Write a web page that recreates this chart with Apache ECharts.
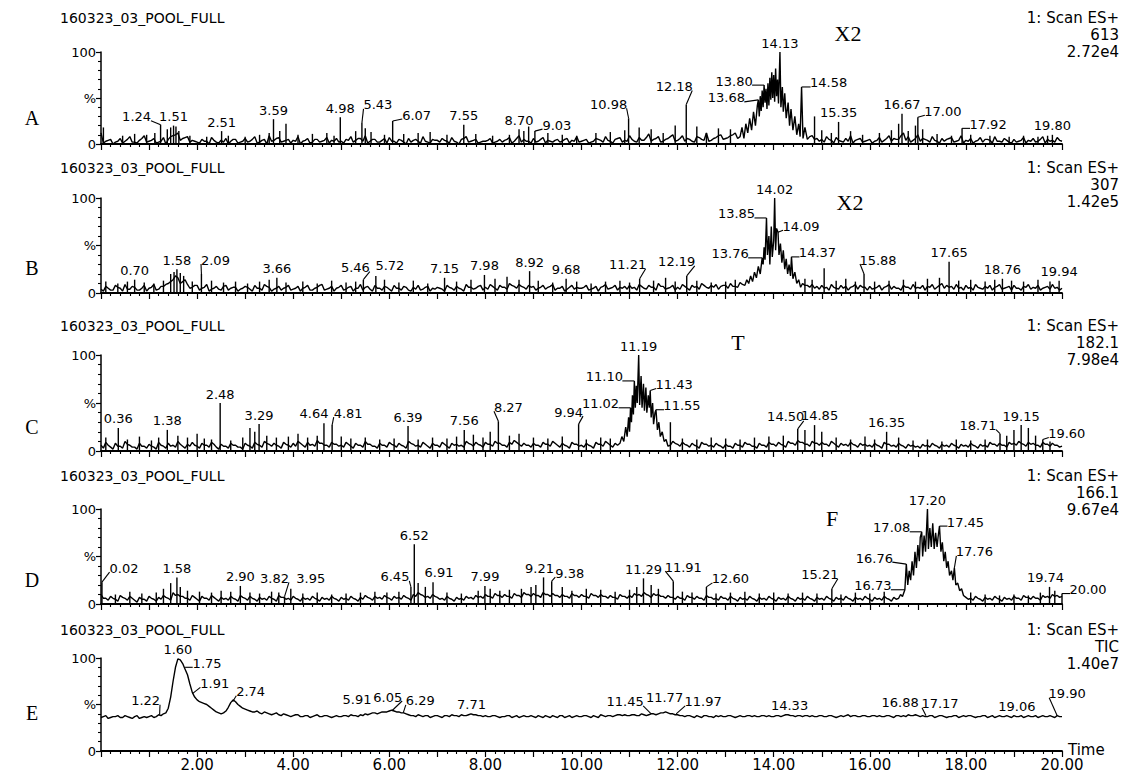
<!DOCTYPE html>
<html><head><meta charset="utf-8">
<script src="https://cdn.jsdelivr.net/npm/echarts@6/dist/echarts.min.js"></script>
<style>html,body{margin:0;padding:0;background:#fff}#c{width:1124px;height:781px}</style>
</head><body><div id="c"></div>
<script>
// ---------- DATA ----------
const BASE_STEP = 0.1; // baseline sampled every 0.1 min (0..20); mid arrays sit halfway between
const xTickLabels = ['2.00','4.00','6.00','8.00','10.00','12.00','14.00','16.00','18.00','20.00'];
const panelNames = ['A','B','C','D','E'];
const runTitle = '160323_03_POOL_FULL';
const scanInfo = [['1: Scan ES+','613','2.72e4'],['1: Scan ES+','307','1.42e5'],['1: Scan ES+','182.1','7.98e4'],['1: Scan ES+','166.1','9.67e4'],['1: Scan ES+','TIC','1.40e7']];
const peakTags = ['X2','X2','T','F',''];

const aBase = [12,3,5,2,6,3,8,2,4,9, 3,6,2,7,5,9,12,6,8,4, 2,5,3,7,2,4,6,3,5,2, 6,3,8,2,5,9,4,7,3,5, 4,8,3,6,2,5,3,7,4,6, 3,5,8,4,6,9,3,5,2,6, 7,3,5,2,6,4,3,8,2,5, 4,6,3,7,2,5,8,3,5,2, 3,6,2,5,4,7,3,9,5,3, 6,3,7,4,2,5,3,6,4,8, 3,5,2,6,4,8,3,5,7,4, 9,3,7,4,11,5,8,3,6,10, 4,9,6,3,8,5,12,4,7,10, 6,9,12,8,15,22,38,48,55,62, 70,66,58,50,40,30,22,14,9,6, 5,8,4,7,3,6,9,4,6,3, 5,3,7,4,9,6,5,12,8,4, 10,6,4,8,3,6,5,7,3,9, 4,6,3,7,5,4,8,3,6,2, 5,3,7,4,6,3,8,5,4,7, 3];
const aMid = [1,4,0,3,1,5,2,1,6,2, 4,1,3,0,8,10,4,7,2,3, 1,3,0,4,1,2,0,5,1,3, 2,5,1,4,0,3,6,2,4,1, 3,0,4,1,5,2,4,1,3,2, 1,4,2,6,3,1,5,2,4,1, 3,1,4,0,2,5,1,3,1,4, 2,4,1,3,0,6,2,4,1,3, 4,1,3,2,5,1,6,2,3,1, 2,5,1,3,4,2,5,1,3,2, 4,1,3,5,2,4,1,6,2,3, 5,2,4,7,3,6,2,5,8,3, 6,3,5,2,7,4,3,6,9,5, 7,10,6,12,9,18,30,40,45,50, 55,50,45,35,28,20,12,8,5,3, 2,5,1,4,2,3,1,5,2,4, 1,4,2,6,3,5,9,4,2,6, 3,5,2,4,1,3,6,2,4,1, 3,1,4,2,5,1,3,2,4,1, 2,4,1,3,2,5,1,3,2,4];
const aCluster = [[13.30,8],[13.34,18],[13.38,6],[13.42,22],[13.46,12],[13.50,28],[13.54,15],[13.58,35],[13.62,20],[13.66,42],[13.68,48],[13.70,30],[13.72,52],[13.74,36],[13.76,58],[13.78,40],[13.80,64],[13.82,45],[13.84,60],[13.86,38],[13.88,66],[13.90,42],[13.92,72],[13.94,48],[13.96,78],[13.98,50],[14.00,75],[14.02,46],[14.04,82],[14.06,52],[14.08,70],[14.10,44],[14.13,100],[14.15,40],[14.18,62],[14.20,35],[14.23,55],[14.26,28],[14.30,45],[14.33,20],[14.36,38],[14.40,15],[14.44,30],[14.48,10],[14.52,22],[14.55,8],[14.58,62],[14.61,6],[14.65,18],[14.70,5]];
const aSpikes = [[0.05,18],[0.45,9],[0.70,11],[0.95,10],[1.12,12],[1.38,16],[1.45,18],[1.56,19],[1.62,14],[1.85,9],[2.20,8],[2.65,9],[3.00,8],[3.30,10],[3.50,12],[3.72,14],[3.85,22],[4.10,10],[4.40,11],[4.70,12],[4.85,9],[5.30,14],[5.50,17],[5.62,13],[5.90,10],[6.30,11],[6.60,12],[6.85,13],[7.20,10],[7.80,11],[8.15,9],[8.50,10],[8.80,14],[8.90,19],[9.30,12],[9.60,10],[9.90,9],[10.30,12],[10.60,13],[10.90,15],[11.20,18],[11.45,16],[11.70,12],[11.95,20],[12.40,19],[12.60,12],[12.85,17],[13.10,16],[14.85,30],[15.00,15],[15.20,12],[15.60,14],[15.85,10],[16.20,12],[16.45,15],[16.60,22],[16.80,14],[16.95,20],[17.10,16],[17.40,11],[17.70,9],[18.10,10],[18.50,9],[18.90,8],[19.20,9],[19.50,8],[19.70,9]];
const aLabels = [[1.24,21],[1.51,20],[2.51,14],[3.59,27],[4.98,29],[5.43,23],[6.07,25],[7.55,21],[8.70,16],[9.03,14],[10.98,28],[12.18,43],[13.68,48],[13.80,64],[14.13,100],[14.58,62],[15.35,24],[16.67,33],[17.00,29],[17.92,17],[19.80,10]];

const bBase = [4,7,3,8,5,9,4,6,3,8, 5,9,4,7,10,14,16,12,9,6, 8,5,9,4,7,3,8,5,6,4, 7,4,8,5,9,6,4,7,5,8, 4,7,5,8,3,6,9,4,7,5, 8,4,7,5,9,6,4,8,5,7, 4,8,5,7,3,6,8,4,7,5, 6,4,8,5,7,4,9,6,5,8, 6,9,5,8,6,10,7,9,6,8, 7,5,8,6,9,5,7,4,8,6, 5,8,4,7,6,9,5,8,6,7, 8,6,9,5,8,6,10,7,5,8, 6,9,5,8,7,10,6,8,9,7, 8,10,7,11,9,12,15,25,40,55, 60,55,40,32,25,15,10,8,9,7, 8,6,9,5,8,7,6,9,8,6, 7,5,8,6,9,7,5,8,6,9, 6,8,7,9,6,10,8,7,9,6, 8,6,9,5,7,8,6,9,5,7, 8,5,7,9,6,8,5,7,9,6, 5];
const bMid = [2,5,3,6,2,4,7,3,5,2, 6,3,7,9,12,18,10,14,5,8, 3,6,2,5,4,7,3,6,2,5, 6,2,5,3,7,2,5,3,6,3, 5,2,6,3,5,8,3,5,2,6, 3,6,2,5,3,7,2,5,3,6, 2,5,3,6,2,4,3,6,2,4, 5,2,6,3,5,2,6,4,7,3, 4,7,3,6,4,8,5,7,4,6, 3,6,4,7,3,5,2,6,4,5, 6,3,5,2,7,4,6,3,5,4, 5,3,7,4,6,3,7,4,6,3, 4,7,3,6,4,8,5,6,4,8, 5,7,6,9,8,11,18,30,45,60, 52,45,35,28,18,12,8,6,5,4, 5,3,6,4,5,3,7,4,6,3, 4,6,3,7,4,5,3,6,4,5, 5,3,6,4,8,5,6,4,5,3, 5,3,6,4,5,3,7,4,6,3, 5,3,6,4,5,3,6,4,5,3];
const bCluster = [[13.40,8],[13.44,14],[13.48,10],[13.52,18],[13.56,12],[13.60,22],[13.64,16],[13.68,28],[13.72,20],[13.76,37],[13.78,30],[13.80,48],[13.82,35],[13.85,79],[13.87,40],[13.90,60],[13.92,30],[13.95,70],[13.97,38],[14.00,55],[14.02,100],[14.04,45],[14.06,68],[14.09,64],[14.11,40],[14.14,52],[14.17,32],[14.20,45],[14.23,25],[14.26,36],[14.29,20],[14.32,30],[14.35,18],[14.37,38],[14.40,15],[14.44,22],[14.48,10],[14.52,14],[14.56,6]];
const bSpikes = [[0.10,12],[0.35,10],[0.55,12],[0.90,11],[1.10,10],[1.30,13],[1.45,20],[1.52,22],[1.65,21],[1.72,18],[1.90,12],[2.30,13],[2.55,11],[2.80,12],[3.05,10],[3.30,12],[3.50,14],[3.85,11],[4.20,12],[4.50,10],[4.80,13],[5.10,11],[5.30,12],[5.90,14],[6.20,11],[6.50,13],[6.80,10],[7.40,12],[7.70,14],[8.20,15],[8.45,17],[8.70,14],[9.10,13],[9.40,11],[9.90,12],[10.20,10],[10.50,12],[10.80,13],[11.00,11],[11.50,13],[11.75,16],[11.95,12],[12.40,13],[12.70,11],[13.00,12],[13.20,14],[14.65,15],[14.80,14],[15.05,26],[15.30,13],[15.50,15],[15.70,12],[16.10,12],[16.40,13],[16.70,14],[16.95,12],[17.20,15],[17.45,16],[17.85,13],[18.10,14],[18.40,12],[18.60,14],[18.95,13],[19.20,12],[19.50,14],[19.75,12]];
const bLabels = [[0.70,14],[1.58,25],[2.09,20],[3.66,16],[5.46,14],[5.72,18],[7.15,16],[7.98,19],[8.92,23],[9.68,15],[11.21,15],[12.19,18],[13.76,37],[13.85,79],[14.02,100],[14.09,64],[14.37,38],[15.88,20],[17.65,33],[18.76,15],[19.94,13]];

const cBase = [6,9,4,8,5,10,6,4,8,5, 7,4,9,5,8,6,10,5,7,9, 5,8,6,9,4,7,5,8,6,4, 8,5,9,6,10,7,8,5,9,6, 8,10,6,9,7,11,8,6,9,7, 6,9,5,8,6,10,7,5,8,6, 9,6,8,5,10,7,6,9,5,8, 6,9,5,8,7,6,10,7,9,6, 9,7,10,8,6,9,11,7,8,6, 8,6,9,7,10,6,8,5,9,7, 6,8,5,9,7,10,6,8,9,12, 20,40,60,50,40,30,15,10,8,10, 7,9,6,8,5,9,7,6,8,5, 7,5,8,6,9,7,5,8,6,9, 7,9,6,10,8,11,9,7,10,8, 9,7,10,6,8,7,9,6,8,7, 6,8,5,9,7,6,8,5,7,6, 5,7,6,8,5,7,6,8,5,7, 6,8,5,7,6,9,7,8,6,9, 8,10,7,9,8,6,9,7,8,6, 5];
const cMid = [3,6,2,5,3,7,4,2,5,3, 5,2,6,3,5,4,7,3,5,6, 3,6,4,7,2,5,3,6,4,2, 6,3,7,4,8,5,6,3,7,4, 5,8,4,6,5,8,6,4,7,5, 4,7,3,6,4,7,5,3,6,4, 7,4,6,3,8,5,4,7,3,6, 4,7,3,6,5,4,8,5,7,4, 7,5,8,6,4,7,9,5,6,4, 6,4,7,5,8,4,6,3,7,5, 4,6,3,7,5,8,4,6,7,10, 30,50,55,45,35,25,12,8,6,8, 5,7,4,6,3,7,5,4,6,3, 5,3,6,4,7,5,3,6,4,7, 5,7,4,8,6,9,7,5,8,6, 7,5,8,4,6,5,7,4,6,5, 4,6,3,7,5,4,6,3,5,4, 3,5,4,6,3,5,4,6,3,5, 4,6,3,5,4,7,5,6,4,7, 6,8,5,7,6,4,7,5,6,4];
const cCluster = [[10.80,8],[10.84,15],[10.88,10],[10.92,25],[10.95,15],[10.98,35],[11.00,20],[11.02,45],[11.04,30],[11.06,58],[11.08,38],[11.10,73],[11.12,45],[11.14,68],[11.16,50],[11.19,100],[11.21,48],[11.24,78],[11.26,45],[11.29,70],[11.31,42],[11.34,66],[11.36,40],[11.39,58],[11.41,45],[11.43,63],[11.45,35],[11.48,50],[11.50,28],[11.53,40],[11.55,43],[11.58,22],[11.61,30],[11.64,15],[11.68,20],[11.72,10],[11.76,12],[11.80,5]];
const cSpikes = [[0.10,14],[0.55,12],[0.80,15],[1.05,11],[1.20,14],[1.60,16],[1.80,14],[2.00,18],[2.15,13],[2.30,12],[2.70,11],[2.95,14],[3.10,24],[3.20,20],[3.45,16],[3.65,14],[3.90,15],[4.10,18],[4.30,14],[4.50,16],[5.00,15],[5.20,13],[5.50,14],[5.80,12],[6.10,13],[6.60,12],[6.90,14],[7.20,13],[7.40,15],[7.75,17],[7.95,14],[8.10,20],[8.50,16],[8.70,18],[9.00,14],[9.30,13],[9.60,15],[10.10,12],[10.40,14],[10.60,13],[11.85,30],[12.10,13],[12.40,12],[12.70,14],[13.00,13],[13.30,12],[13.60,14],[13.90,15],[14.20,16],[14.65,22],[15.00,20],[15.30,14],[15.60,12],[15.90,15],[16.10,12],[16.60,14],[16.90,11],[17.20,12],[17.50,10],[17.80,12],[18.10,11],[18.40,12],[18.85,16],[19.00,22],[19.30,24],[19.45,16],[19.75,10]];
const cLabels = [[0.36,24],[1.38,22],[2.48,50],[3.29,28],[4.64,29],[4.81,27],[6.39,26],[7.56,22],[8.27,31],[9.94,28],[11.02,45],[11.10,73],[11.19,100],[11.43,63],[11.55,43],[14.50,23],[14.85,27],[16.35,20],[18.71,18],[19.15,27],[19.60,12]];

const dBase = [10,6,8,5,9,6,8,4,7,5, 8,5,7,9,6,12,10,8,6,9, 5,8,6,9,5,7,6,8,5,9, 6,8,5,7,6,8,5,9,7,6, 8,5,7,6,8,5,7,6,8,5, 7,6,8,5,7,9,6,8,7,9, 6,8,7,9,6,10,12,9,8,10, 7,6,8,5,7,6,8,7,9,8, 10,8,11,9,10,8,11,9,12,10, 11,9,12,10,11,9,10,8,11,9, 10,8,11,9,10,8,9,7,10,8, 9,11,10,12,9,11,10,8,9,7, 8,6,9,7,8,6,9,7,6,8, 6,8,5,7,6,8,5,7,6,8, 5,7,6,8,5,7,6,8,5,7, 6,8,5,7,6,8,5,7,6,8, 5,7,6,8,5,7,10,30,50,60, 70,80,90,80,70,50,40,30,20,12, 7,6,8,5,7,6,8,5,7,6, 8,6,9,7,8,6,9,8,10,9, 8];
const dMid = [6,4,6,3,7,4,6,2,5,3, 6,3,5,7,4,9,8,6,4,7, 3,6,4,7,3,5,4,6,3,7, 4,6,3,5,4,6,3,7,5,4, 6,3,5,4,6,3,5,4,6,3, 5,4,6,3,5,7,4,6,5,7, 4,6,5,7,4,8,10,7,6,8, 5,4,6,3,5,4,6,5,7,6, 8,6,9,7,8,6,9,7,10,8, 9,7,10,8,9,7,8,6,9,7, 8,6,9,7,8,6,7,5,8,6, 7,9,8,10,7,9,8,6,7,5, 6,4,7,5,6,4,7,5,4,6, 4,6,3,5,4,6,3,5,4,6, 3,5,4,6,3,5,4,6,3,5, 4,6,3,5,4,6,3,5,4,6, 3,5,4,6,3,5,20,40,55,65, 75,85,80,75,60,45,35,25,15,10, 5,4,6,3,5,4,6,3,5,4, 6,4,7,5,6,4,7,6,8,7];
const dCluster = [[16.60,6],[16.64,10],[16.68,8],[16.73,15],[16.76,42],[16.79,20],[16.82,35],[16.85,25],[16.88,45],[16.91,30],[16.94,55],[16.97,38],[17.00,62],[17.03,45],[17.05,70],[17.08,76],[17.10,50],[17.13,72],[17.16,55],[17.20,100],[17.22,58],[17.25,80],[17.28,60],[17.31,85],[17.34,58],[17.37,75],[17.40,60],[17.42,70],[17.45,82],[17.48,55],[17.51,65],[17.54,45],[17.57,55],[17.60,38],[17.63,45],[17.66,30],[17.70,35],[17.73,25],[17.76,38],[17.79,20],[17.83,22],[17.87,14],[17.91,16],[17.95,9],[18.00,7]];
const dSpikes = [[0.30,10],[0.60,13],[0.85,11],[1.15,12],[1.30,16],[1.45,22],[1.65,18],[1.80,14],[2.05,13],[2.30,12],[2.50,14],[2.70,13],[3.10,12],[3.30,11],[3.55,13],[3.70,12],[4.20,11],[4.50,12],[4.80,10],[5.10,11],[5.40,12],[5.70,13],[5.95,12],[6.20,13],[6.60,22],[6.75,18],[7.20,12],[7.50,11],[7.85,14],[8.10,16],[8.30,14],[8.50,15],[8.75,16],[8.95,18],[9.05,20],[9.60,18],[9.80,14],[10.10,16],[10.40,15],[10.70,13],[11.00,15],[11.15,18],[11.45,20],[11.60,16],[12.10,13],[12.30,12],[12.80,11],[13.10,12],[13.40,13],[13.70,11],[14.00,12],[14.30,11],[14.60,12],[14.90,11],[15.40,10],[15.70,12],[16.00,11],[16.30,13],[18.10,12],[18.40,10],[18.70,9],[19.00,10],[19.30,9],[19.55,12],[19.85,14]];
const dLabels = [[0.02,23],[1.58,28],[2.90,19],[3.82,8],[3.95,16],[6.45,18],[6.52,63],[6.91,23],[7.99,19],[9.21,28],[9.38,24],[11.29,27],[11.91,24],[12.60,18],[15.21,16],[16.73,15],[16.76,42],[17.08,76],[17.20,100],[17.45,82],[17.76,38],[19.74,18],[20.00,11]];

const eBase = [36,38,36,37,36,38,36,37,35,37, 37,36,39,40,46,75,99,94,82,63, 55,52,50,46,42,40,43,52,53,48, 45,43,42,41,42,40,40,39,40,38, 38,39,37,38,37,39,37,38,36,38, 37,38,39,38,39,40,40,41,41,42, 43,43,42,41,39,38,39,37,38,37, 38,36,38,39,38,39,38,40,39,38, 38,37,38,36,37,38,37,36,38,37, 37,38,36,37,38,36,38,37,36,38, 37,38,36,37,39,37,38,38,39,39, 38,39,38,39,39,40,40,41,41,40, 39,38,38,37,38,36,38,37,38,38, 37,38,36,38,37,38,38,37,38,38, 37,38,38,39,38,38,37,38,38,37, 38,37,38,36,38,38,37,38,37,38, 37,38,38,37,38,36,38,38,39,38, 38,38,37,38,37,38,36,37,38,37, 37,38,36,37,38,37,36,38,37,37, 38,37,36,38,37,36,38,37,37,38, 37];
const eMid = [37,35,37,38,36,37,35,38,36,36, 38,37,38,41,58,90,98,88,72,58, 53,51,48,44,41,41,47,55,50,46, 44,42,43,40,41,39,41,38,39,37, 39,37,38,36,38,37,38,37,37,37, 38,37,38,37,38,39,41,40,42,42, 44,42,41,40,38,37,38,38,36,38, 37,38,37,38,37,38,39,39,38,37, 37,38,37,37,38,36,38,37,37,38, 36,37,38,36,37,38,36,38,37,37, 38,37,38,36,38,38,37,39,38,38, 39,38,40,38,40,39,41,42,40,39, 38,37,38,36,37,38,37,36,37,37, 38,37,37,37,38,37,37,38,37,37, 38,37,39,38,37,38,38,37,37,38, 37,38,37,37,37,39,38,37,38,37, 38,37,37,38,37,38,37,37,38,39, 37,37,38,36,38,37,37,38,36,38, 38,37,37,38,36,38,37,37,38,36, 37,38,37,37,38,37,37,38,36,37];
const eLabels = [[1.22,39],[1.60,99],[1.75,90],[1.91,62],[2.74,53],[5.91,42],[6.05,43],[6.29,41],[7.71,40],[11.45,40],[11.77,41],[11.97,40],[14.33,39],[16.88,39],[17.17,38],[19.06,38],[19.90,38]];

// ---------- LAYOUT (label offsets in px: [dx, dy, leader]) ----------
const labelLayout = [
 {'1.24':[-24,-8,1],'5.43':[16,-18,1],'6.07':[24,-6,1],'9.03':[22,-6,1],'10.98':[-20,-14,1],'12.18':[-12,-18,1],'13.68':[-32,-2,1],'13.80':[-30,-4,1],'14.58':[27,-4,1],'17.00':[25,-6,1],'17.92':[26,-4,1]},
 {'2.09':[14,-14,1],'5.46':[-8,-12,1],'5.72':[14,-10,0],'11.21':[-12,-14,1],'12.19':[-10,-14,1],'13.76':[-32,-4,1],'13.85':[-30,-4,1],'14.09':[23,-6,1],'14.37':[26,-4,1],'15.88':[14,-14,1]},
 {'4.64':[-10,-10,0],'4.81':[16,-12,1],'8.27':[10,-14,1],'9.94':[-10,-12,1],'11.02':[-30,-4,1],'11.10':[-30,-4,1],'11.43':[24,-6,1],'11.55':[26,-4,1],'14.50':[-12,-12,1],'14.85':[5,-10,0],'18.71':[-22,-8,1],'19.60':[24,-6,1]},
 {'0.02':[22,-14,1],'3.82':[-10,-18,1],'3.95':[20,-10,0],'6.45':[-16,-10,1],'6.91':[6,-10,0],'9.21':[-4,-9,0],'9.38':[18,-8,1],'11.91':[10,-14,1],'12.60':[24,-8,1],'15.21':[-12,-14,1],'16.73':[-32,-4,1],'16.76':[-32,-6,1],'17.08':[-30,-4,1],'17.45':[26,-4,1],'17.76':[20,-16,1],'19.74':[-4,-9,0],'20.00':[26,-4,1]},
 {'1.22':[-14,-14,1],'1.75':[22,-4,1],'1.91':[22,-10,1],'2.74':[18,-10,1],'5.91':[-28,-12,0],'6.05':[-4,-14,1],'6.29':[17,-12,1],'11.45':[-26,-12,1],'11.77':[-2,-15,0],'11.97':[27,-12,1],'16.88':[-12,-12,0],'17.17':[14,-12,1],'19.90':[10,-22,1]}
];
const gridTops = [52,198,355,509,658];
const gridHeights = [92,95,96,95,93];
const titleYs = [18,168,326,476,630];
const letterYs = [118,268,427,580,713];
const tagPos = [[848,33],[850,202],[738,342],[832,518]];

// ---------- BUILD ----------
function merge(base, mid, cluster){
  const out = [];
  const c0 = cluster.length ? cluster[0][0] : 99, c1 = cluster.length ? cluster[cluster.length-1][0] : -1;
  const keep = t => (t < c0 || t > c1);
  base.forEach((v,i)=>{ const t = +(i*BASE_STEP).toFixed(2); if (keep(t)) out.push([t,v]); });
  mid.forEach((v,i)=>{ const t = +(i*BASE_STEP + BASE_STEP/2).toFixed(2); if (keep(t)) out.push([t,v]); });
  cluster.forEach(p=>out.push(p));
  out.sort((a,b)=>a[0]-b[0]);
  return out;
}
function inCluster(cluster,t){ return cluster.length && t>=cluster[0][0] && t<=cluster[cluster.length-1][0]; }

const panels = [
 {base:aBase, mid:aMid, cluster:aCluster, spikes:aSpikes, labels:aLabels},
 {base:bBase, mid:bMid, cluster:bCluster, spikes:bSpikes, labels:bLabels},
 {base:cBase, mid:cMid, cluster:cCluster, spikes:cSpikes, labels:cLabels},
 {base:dBase, mid:dMid, cluster:dCluster, spikes:dSpikes, labels:dLabels},
 {base:eBase, mid:eMid, cluster:[], spikes:[], labels:eLabels}
];
const FONT = '"DejaVu Sans", Verdana, sans-serif';
const SERIF = '"Liberation Serif", "DejaVu Serif", serif';
const grids=[], xAxes=[], yAxes=[], series=[];
panels.forEach((p,i)=>{
  grids.push({left:101, right:62, top:gridTops[i], height:gridHeights[i]});
  xAxes.push({type:'value', gridIndex:i, min:0, max:20, interval:1,
    axisLine:{onZero:false, lineStyle:{color:'#000', width:1.8}},
    axisTick:{length:6, lineStyle:{color:'#000', width:1.2}},
    minorTick:{show:true, splitNumber:5, length:3, lineStyle:{color:'#000', width:1.1}},
    splitLine:{show:false}, minorSplitLine:{show:false},
    axisLabel:{show:i===4, color:'#000', fontSize:15, fontFamily:FONT, margin:6, showMaxLabel:true,
      formatter:v=>{const s=v.toFixed(2); return xTickLabels.indexOf(s)>=0?s:'';}}
  });
  yAxes.push({type:'value', gridIndex:i, min:0, max:100, interval:50,
    axisLine:{show:true, lineStyle:{color:'#000', width:1.5}},
    axisTick:{show:true, length:5, lineStyle:{color:'#000', width:1.2}},
    minorTick:{show:true, splitNumber:5, length:3, lineStyle:{color:'#000', width:1.1}},
    splitLine:{show:false}, minorSplitLine:{show:false},
    axisLabel:{color:'#000', fontSize:13, fontFamily:FONT, margin:5, formatter:v=>v===0?'0':(v===50?'%':'100')}
  });
  series.push({type:'line', xAxisIndex:i, yAxisIndex:i, data:merge(p.base,p.mid,p.cluster), showSymbol:false, symbol:'none',
    lineStyle:{color:'#000', width:1.4}, animation:false, silent:true, z:3});
  const spikeData = p.spikes.concat(p.labels.filter(l=>i<4 && !inCluster(p.cluster,l[0])));
  if (spikeData.length) series.push({type:'custom', xAxisIndex:i, yAxisIndex:i, data:spikeData, animation:false, silent:true, clip:false, z:4,
    renderItem:(params, api)=>{ const a=api.coord([api.value(0),0]), b=api.coord([api.value(0),api.value(1)]);
      return {type:'line', shape:{x1:a[0],y1:a[1],x2:b[0],y2:b[1]}, style:{stroke:'#000', lineWidth:1.4}}; }});
  const lay = labelLayout[i];
  series.push({type:'custom', xAxisIndex:i, yAxisIndex:i, data:p.labels, animation:false, silent:true, clip:false, z:5,
    renderItem:(params, api)=>{
      const t=api.value(0), v=api.value(1), pt=api.coord([t,v]);
      const txt=t.toFixed(2); const L=lay[txt]||[0,-9,0];
      const cx=pt[0]+L[0], cy=pt[1]+L[1];
      const ch=[{type:'text', x:cx, y:cy, style:{text:txt, fill:'#000', font:'13px '+FONT, align:'center', verticalAlign:'middle'}}];
      if (L[2]) { const w=txt.length*7.2; const s=L[0]>0?1:(L[0]<0?-1:0);
        ch.push({type:'line', shape:{x1:pt[0], y1:pt[1], x2:cx - s*w/2, y2:cy+4}, style:{stroke:'#000', lineWidth:1.1}}); }
      return {type:'group', children:ch};
    }});
});

const graphic = [];
panels.forEach((p,i)=>{
  graphic.push({type:'text', x:60, y:titleYs[i], style:{text:runTitle, font:'14px '+FONT, fill:'#000', verticalAlign:'middle'}});
  scanInfo[i].forEach((s,k)=>graphic.push({type:'text', x:1119, y:titleYs[i]+k*17, style:{text:s, font:'15px '+FONT, fill:'#000', align:'right', verticalAlign:'middle'}}));
  graphic.push({type:'text', x:32, y:letterYs[i], style:{text:panelNames[i], font:'20px '+SERIF, fill:'#000', align:'center', verticalAlign:'middle'}});
  if (peakTags[i]) graphic.push({type:'text', x:tagPos[i][0], y:tagPos[i][1], style:{text:peakTags[i], font:'22px '+SERIF, fill:'#000', align:'center', verticalAlign:'middle'}});
});
graphic.push({type:'text', x:1068, y:750, style:{text:'Time', font:'15px '+FONT, fill:'#000', verticalAlign:'middle'}});

const chart = echarts.init(document.getElementById('c'), null, {renderer:'svg'});
chart.setOption({animation:false, backgroundColor:'#fff', grid:grids, xAxis:xAxes, yAxis:yAxes, series:series, graphic:graphic});
</script></body></html>
